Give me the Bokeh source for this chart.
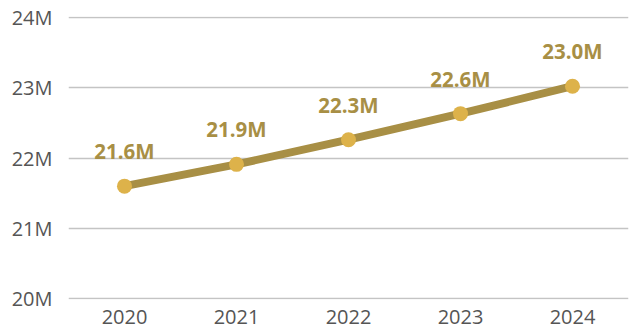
from bokeh.plotting import figure
from bokeh.models import ColumnDataSource, FixedTicker, Range1d
from bokeh.embed import file_html
from bokeh.resources import INLINE
from bokeh.core.properties import value

years = ["2020", "2021", "2022", "2023", "2024"]
subs = [21.60, 21.91, 22.26, 22.63, 23.02]
labels = ["21.6M", "21.9M", "22.3M", "22.6M", "23.0M"]
y_ticks = [20, 21, 22, 23, 24]
y_tick_labels = {20: "20M", 21: "21M", 22: "22M", 23: "23M", 24: "24M"}

src = ColumnDataSource(dict(x=years, y=subs, lab=labels))

p = figure(x_range=years, y_range=Range1d(19.99, 24.01), width=633, height=328,
           output_backend="svg", toolbar_location=None,
           min_border_left=68, min_border_right=5, min_border_top=16, min_border_bottom=29)
p.outline_line_color = None
p.background_fill_color = "white"

p.line("x", "y", source=src, line_color="#A88F45", line_width=8)
p.scatter("x", "y", source=src, size=15, fill_color="#DDB24A", line_color=None)
p.text("x", "y", text="lab", source=src, text_font=value("Open Sans"), text_font_size="20.5px",
       text_font_style="bold", text_color="#A88F45", text_align="center",
       text_baseline="middle", y_offset=-35)

p.yaxis.ticker = FixedTicker(ticks=y_ticks)
p.yaxis.major_label_overrides = y_tick_labels
for ax in (p.xaxis, p.yaxis):
    ax.axis_line_color = None
    ax.major_tick_line_color = None
    ax.minor_tick_line_color = None
    ax.major_label_text_font = "Open Sans"
    ax.major_label_text_font_size = "20px"
    ax.major_label_text_color = "#555555"
p.yaxis.major_label_standoff = 10
p.xaxis.major_label_standoff = 4

p.xgrid.grid_line_color = None
p.ygrid.grid_line_color = "#C4C4C4"
p.ygrid.grid_line_width = 1.5
p.ygrid.ticker = FixedTicker(ticks=y_ticks)

open("out.html", "w").write(file_html(p, INLINE))
